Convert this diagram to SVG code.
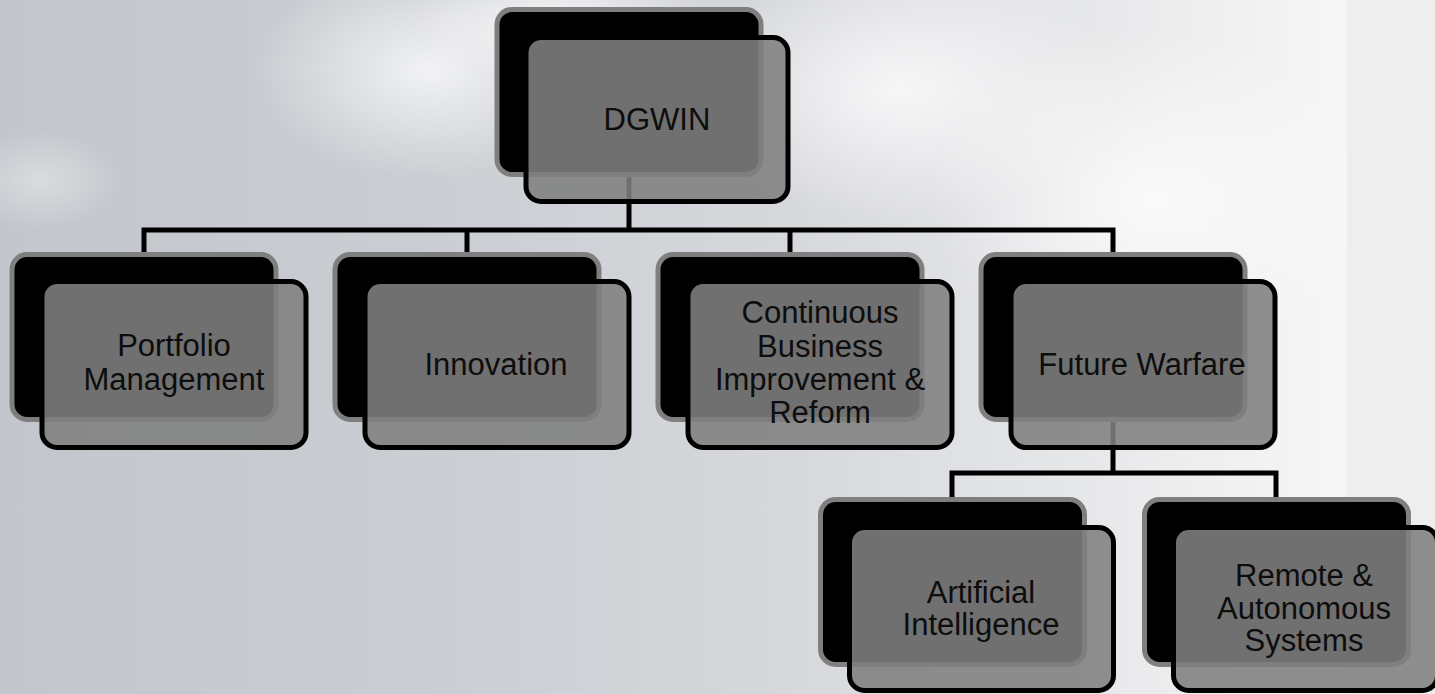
<svg xmlns="http://www.w3.org/2000/svg" width="1435" height="694" viewBox="0 0 1435 694">
  <defs>
    <linearGradient id="bg" x1="0" y1="0" x2="1435" y2="0" gradientUnits="userSpaceOnUse">
      <stop offset="0" stop-color="#c3c6cc"/>
      <stop offset="0.3" stop-color="#cacdd2"/>
      <stop offset="0.55" stop-color="#d6d8dc"/>
      <stop offset="0.75" stop-color="#e6e7e9"/>
      <stop offset="0.93" stop-color="#f6f6f6"/>
      <stop offset="1" stop-color="#f8f8f8"/>
    </linearGradient>
    <radialGradient id="cloud" cx="0.5" cy="0.5" r="0.5">
      <stop offset="0" stop-color="#ffffff" stop-opacity="0.75"/>
      <stop offset="1" stop-color="#ffffff" stop-opacity="0"/>
    </radialGradient>
    <style>
      .back { fill: #000000; stroke: #7f7f7f; stroke-width: 5; }
      .front { fill: #808080; fill-opacity: 0.88; stroke: #000000; stroke-width: 5; }
      .lbl { font-family: "Liberation Sans", Arial, sans-serif; font-size: 31px; fill: #0d0d0d; text-anchor: middle; }
      .conn { fill: none; stroke: #000000; stroke-width: 5; }
    </style>
  </defs>

  <rect x="0" y="0" width="1435" height="694" fill="url(#bg)"/>
  <ellipse cx="430" cy="70" rx="180" ry="110" fill="url(#cloud)"/>
  <ellipse cx="560" cy="20" rx="150" ry="60" fill="url(#cloud)"/>
  <ellipse cx="900" cy="90" rx="220" ry="130" fill="url(#cloud)"/>
  <ellipse cx="1150" cy="200" rx="220" ry="170" fill="url(#cloud)"/>
  <ellipse cx="40" cy="180" rx="80" ry="50" fill="url(#cloud)" opacity="0.5"/>
  <rect x="1347" y="0" width="88" height="694" fill="#eeeeee"/>

  <g id="connectors">
    <path class="conn" d="M629 175 V230"/>
    <path class="conn" d="M144 254 V230 H1113 V254"/>
    <path class="conn" d="M467 230 V254"/>
    <path class="conn" d="M790 230 V254"/>
    <path class="conn" d="M1113 420 V473"/>
    <path class="conn" d="M952 499 V473 H1276 V499"/>
  </g>

  <g id="node-dgwin">
    <rect class="back" x="497" y="9.5" width="264" height="165" rx="15"/>
    <rect class="front" x="526" y="37.5" width="262" height="164" rx="15"/>
    <text class="lbl" x="657" y="130">DGWIN</text>
  </g>

  <g id="node-portfolio">
    <rect class="back" x="12" y="254.5" width="264" height="165" rx="15"/>
    <rect class="front" x="42" y="281.5" width="264" height="166" rx="15"/>
    <text class="lbl" x="174" y="356">Portfolio</text>
    <text class="lbl" x="174" y="390">Management</text>
  </g>

  <g id="node-innovation">
    <rect class="back" x="335" y="254.5" width="264" height="165" rx="15"/>
    <rect class="front" x="365" y="281.5" width="264" height="166" rx="15"/>
    <text class="lbl" x="496" y="375">Innovation</text>
  </g>

  <g id="node-continuous">
    <rect class="back" x="658" y="254.5" width="264" height="165" rx="15"/>
    <rect class="front" x="688" y="281.5" width="264" height="166" rx="15"/>
    <text class="lbl" x="820" y="323">Continuous</text>
    <text class="lbl" x="820" y="357">Business</text>
    <text class="lbl" x="820" y="390">Improvement &amp;</text>
    <text class="lbl" x="820" y="423">Reform</text>
  </g>

  <g id="node-future">
    <rect class="back" x="981" y="254.5" width="264" height="165" rx="15"/>
    <rect class="front" x="1011" y="281.5" width="264" height="166" rx="15"/>
    <text class="lbl" x="1142" y="375">Future Warfare</text>
  </g>

  <g id="node-ai">
    <rect class="back" x="820.5" y="499.5" width="264" height="165" rx="15"/>
    <rect class="front" x="849.5" y="527.5" width="264" height="163" rx="15"/>
    <text class="lbl" x="981" y="603">Artificial</text>
    <text class="lbl" x="981" y="635">Intelligence</text>
  </g>

  <g id="node-ras">
    <rect class="back" x="1144.5" y="499.5" width="264" height="165" rx="15"/>
    <rect class="front" x="1173.5" y="527.5" width="264" height="163" rx="15"/>
    <text class="lbl" x="1304" y="586">Remote &amp;</text>
    <text class="lbl" x="1304" y="619">Autonomous</text>
    <text class="lbl" x="1304" y="651">Systems</text>
  </g>
</svg>
